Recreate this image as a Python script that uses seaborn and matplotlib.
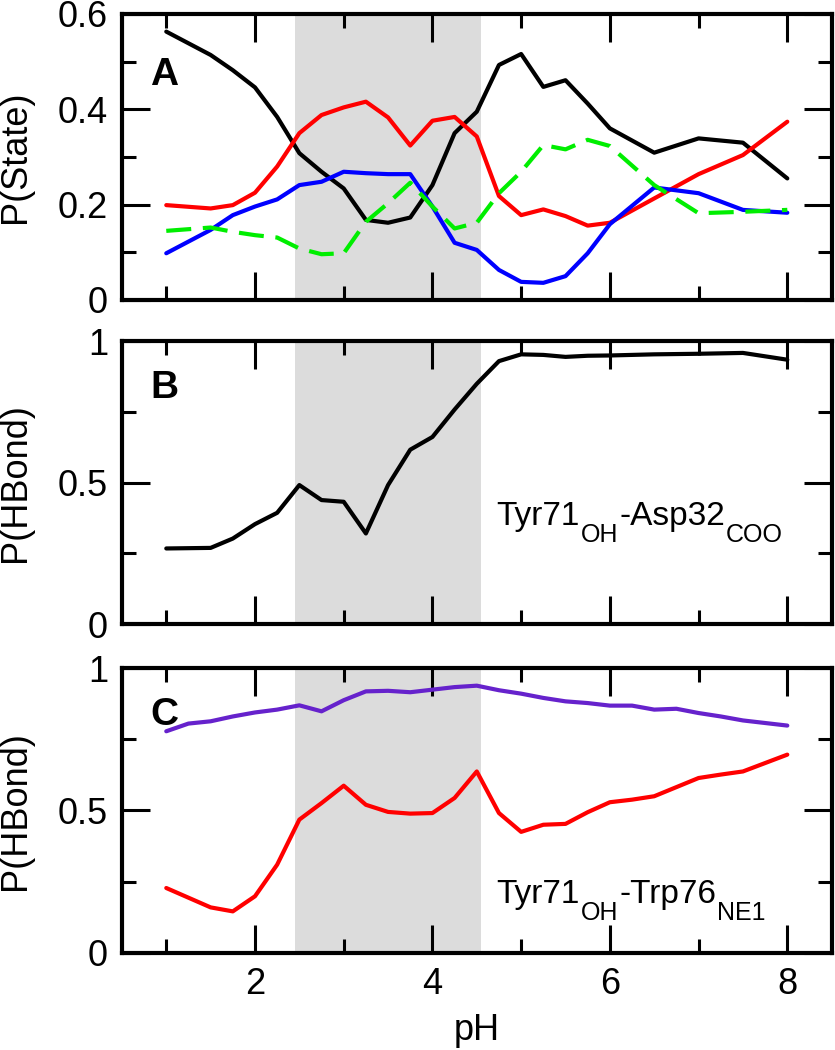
import numpy as np
import pandas as pd
import matplotlib
matplotlib.use('Agg')
import matplotlib.pyplot as plt
from matplotlib.ticker import MultipleLocator
from matplotlib.transforms import offset_copy
import seaborn as sns

# pH grids
ph_a = [1.0, 1.5, 1.75, 2.0, 2.25, 2.5, 2.75, 3.0, 3.25, 3.5, 3.75, 4.0, 4.25, 4.5,
        4.75, 5.0, 5.25, 5.5, 5.75, 6.0, 6.5, 7.0, 7.5, 8.0]
ph_b = [1.0, 1.5, 1.75, 2.0, 2.25, 2.5, 2.75, 3.0, 3.25, 3.5, 3.75, 4.0, 4.25, 4.5,
        4.75, 5.0, 5.25, 5.5, 5.75, 6.0, 6.5, 7.0, 7.5, 8.0]
ph_c_purple = [1.0, 1.25, 1.5, 1.75, 2.0, 2.25, 2.5, 2.75, 3.0, 3.25, 3.5, 3.75, 4.0, 4.25,
               4.5, 4.75, 5.0, 5.25, 5.5, 5.75, 6.0, 6.25, 6.5, 6.75, 7.0, 7.25, 7.5, 8.0]
ph_c_red = [1.0, 1.5, 1.75, 2.0, 2.25, 2.5, 2.75, 3.0, 3.25, 3.5, 3.75, 4.0, 4.25, 4.5,
            4.75, 5.0, 5.25, 5.5, 5.75, 6.0, 6.25, 6.5, 6.75, 7.0, 7.25, 7.5, 8.0]

# panel A: state populations
state_black = [0.563, 0.514, 0.482, 0.446, 0.384, 0.308, 0.269, 0.234, 0.168, 0.162, 0.173, 0.241,
               0.350, 0.395, 0.493, 0.516, 0.447, 0.461, 0.412, 0.360, 0.309, 0.339, 0.330, 0.255]
state_red = [0.199, 0.192, 0.199, 0.225, 0.280, 0.350, 0.388, 0.404, 0.416, 0.383, 0.324, 0.376,
             0.384, 0.343, 0.218, 0.178, 0.190, 0.176, 0.156, 0.162, 0.213, 0.264, 0.304, 0.374]
state_blue = [0.098, 0.147, 0.178, 0.196, 0.211, 0.241, 0.248, 0.269, 0.266, 0.264, 0.264, 0.196,
              0.120, 0.105, 0.063, 0.038, 0.036, 0.050, 0.098, 0.159, 0.236, 0.224, 0.189, 0.183]
state_green = [0.145, 0.152, 0.143, 0.136, 0.131, 0.108, 0.096, 0.098, 0.164, 0.203, 0.246, 0.196,
               0.150, 0.162, 0.224, 0.269, 0.325, 0.316, 0.336, 0.323, 0.241, 0.182, 0.185, 0.189]

# panel B: Tyr71-Asp32 hbond
hb_asp = [0.267, 0.269, 0.302, 0.353, 0.393, 0.491, 0.438, 0.432, 0.320, 0.491, 0.616, 0.661,
          0.758, 0.849, 0.929, 0.953, 0.951, 0.944, 0.948, 0.949, 0.953, 0.955, 0.958, 0.934]

# panel C: Tyr71-Trp76 hbond
hb_trp_purple = [0.778, 0.805, 0.813, 0.830, 0.844, 0.854, 0.869, 0.848, 0.887, 0.918, 0.920, 0.915,
                 0.924, 0.933, 0.938, 0.922, 0.910, 0.895, 0.883, 0.877, 0.868, 0.868, 0.854, 0.857,
                 0.842, 0.830, 0.816, 0.798]
hb_trp_red = [0.228, 0.160, 0.146, 0.199, 0.310, 0.468, 0.526, 0.587, 0.520, 0.495, 0.489, 0.491,
              0.544, 0.637, 0.491, 0.425, 0.450, 0.453, 0.494, 0.529, 0.538, 0.550, 0.582, 0.614,
              0.626, 0.637, 0.696]

shade = (2.45, 4.55)

# label pieces: (text, is_subscript)
label_b = [('Tyr71', False), ('OH', True), ('-Asp32', False), ('COO', True)]
label_c = [('Tyr71', False), ('OH', True), ('-Trp76', False), ('NE1', True)]

sns.set_style('ticks')
plt.rcParams['font.family'] = ['Liberation Sans', 'DejaVu Sans']
for key in ['text.color', 'axes.labelcolor', 'xtick.color', 'ytick.color', 'axes.edgecolor']:
    plt.rcParams[key] = 'black'

fig = plt.figure(figsize=(8.35, 10.5), dpi=100)
ax_a = fig.add_axes([0.146, 0.7143, 0.850, 0.2724])
ax_b = fig.add_axes([0.146, 0.4057, 0.850, 0.2695])
ax_c = fig.add_axes([0.146, 0.0924, 0.850, 0.2714])

lw = 3.0

sns.lineplot(x=ph_a, y=state_black, ax=ax_a, color='black', lw=lw, estimator=None)
sns.lineplot(x=ph_a, y=state_red, ax=ax_a, color='#ff0000', lw=lw, estimator=None)
sns.lineplot(x=ph_a, y=state_blue, ax=ax_a, color='#0000ff', lw=lw, estimator=None)
sns.lineplot(x=ph_a, y=state_green, ax=ax_a, color='#00ee00', lw=lw, estimator=None,
             linestyle=(0, (6, 2.8)))

sns.lineplot(x=ph_b, y=hb_asp, ax=ax_b, color='black', lw=lw, estimator=None)

sns.lineplot(x=ph_c_purple, y=hb_trp_purple, ax=ax_c, color='#6622cc', lw=lw, estimator=None)
sns.lineplot(x=ph_c_red, y=hb_trp_red, ax=ax_c, color='#ff0000', lw=lw, estimator=None)

fs = 26
for ax in (ax_a, ax_b, ax_c):
    ax.axvspan(shade[0], shade[1], color='#dcdcdc', lw=0, zorder=0)
    ax.set_xlim(0.5, 8.5)
    ax.xaxis.set_major_locator(MultipleLocator(2))
    ax.xaxis.set_minor_locator(MultipleLocator(1))
    ax.tick_params(which='both', direction='in', top=True, right=True, labelsize=fs, pad=10)
    ax.tick_params(which='major', length=20, width=2.2)
    ax.tick_params(which='minor', length=10, width=2.2)
    for sp in ax.spines.values():
        sp.set_linewidth(3)
        sp.set_visible(True)
        sp.set_color('black')

ax_a.set_ylim(0, 0.6)
ax_a.yaxis.set_minor_locator(MultipleLocator(0.1))
ax_a.set_yticks([0, 0.2, 0.4, 0.6])
ax_a.set_yticklabels(['0', '0.2', '0.4', '0.6'])

for ax in (ax_b, ax_c):
    ax.set_ylim(0, 1)
    ax.yaxis.set_minor_locator(MultipleLocator(0.25))
    ax.set_yticks([0, 0.5, 1])
    ax.set_yticklabels(['0', '0.5', '1'])

ax_a.tick_params(labelbottom=False)
ax_b.tick_params(labelbottom=False)
ax_a.set_xlabel('')
ax_b.set_xlabel('')
ax_c.set_xlabel('pH', fontsize=fs, labelpad=8)

ax_a.set_ylabel('P(State)', fontsize=fs)
ax_b.set_ylabel('P(HBond)', fontsize=fs)
ax_c.set_ylabel('P(HBond)', fontsize=fs)
for ax in (ax_a, ax_b, ax_c):
    ax.yaxis.set_label_coords(-0.125, 0.5)

ax_a.text(0.04, 0.75, 'A', transform=ax_a.transAxes, fontsize=28, fontweight='bold')
ax_b.text(0.04, 0.80, 'B', transform=ax_b.transAxes, fontsize=28, fontweight='bold')
ax_c.text(0.04, 0.80, 'C', transform=ax_c.transAxes, fontsize=28, fontweight='bold')


def put_label(ax, x, y, pieces):
    # write text pieces one after another, subscripts smaller and lowered
    renderer = fig.canvas.get_renderer()
    dx = 0.0
    for s, sub in pieces:
        size = 18 if sub else 24
        dy = -17 if sub else 0
        tr = offset_copy(ax.transData, fig=fig, x=dx, y=dy, units='dots')
        t = ax.text(x, y, s, transform=tr, fontsize=size, va='baseline', ha='left')
        dx += t.get_window_extent(renderer).width + 1


put_label(ax_b, 4.72, 0.35, label_b)
put_label(ax_c, 4.72, 0.175, label_c)

fig.savefig('out.png', dpi=100)
